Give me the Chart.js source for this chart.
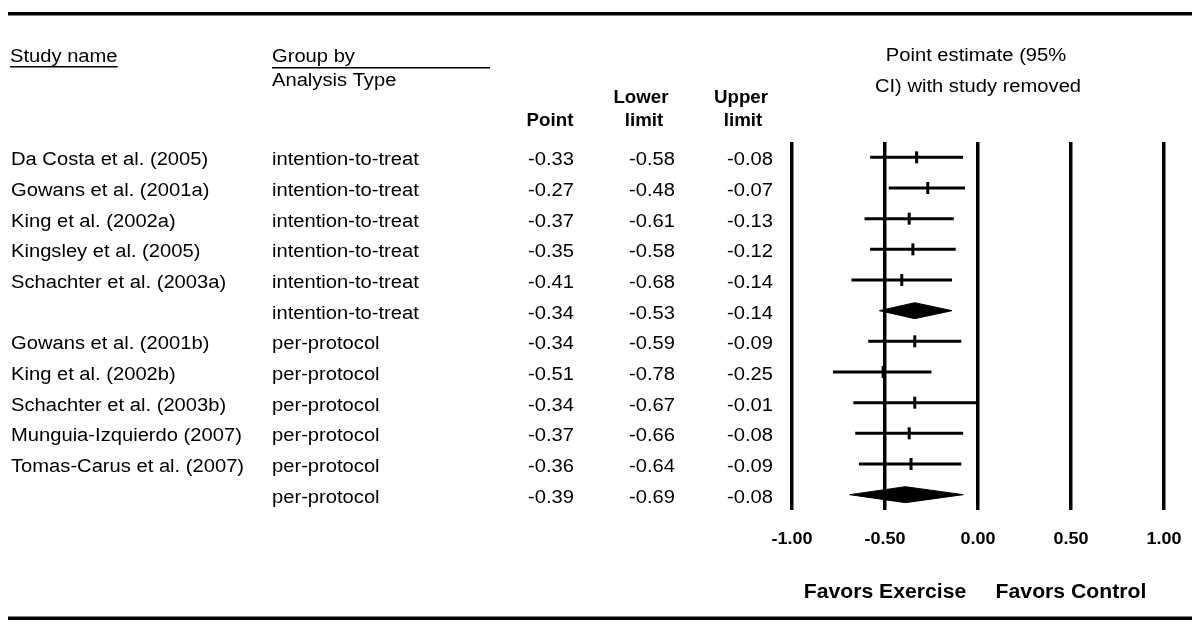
<!DOCTYPE html>
<html>
<head>
<meta charset="utf-8">
<script src="https://cdn.jsdelivr.net/npm/chart.js@4.4.1/dist/chart.umd.min.js"></script>
<style>
  html, body { margin: 0; padding: 0; background: #fff; }
  #wrap { width: 1200px; height: 629px; }
</style>
</head>
<body>
<div id="wrap"><canvas id="forest" width="1200" height="629"></canvas></div>
<script>
const studyNames = [
  "Da Costa et al. (2005)", "Gowans et al. (2001a)", "King et al. (2002a)",
  "Kingsley et al. (2005)", "Schachter et al. (2003a)", "",
  "Gowans et al. (2001b)", "King et al. (2002b)", "Schachter et al. (2003b)",
  "Munguia-Izquierdo (2007)", "Tomas-Carus et al. (2007)", ""
];
const analysisTypes = [
  "intention-to-treat", "intention-to-treat", "intention-to-treat",
  "intention-to-treat", "intention-to-treat", "intention-to-treat",
  "per-protocol", "per-protocol", "per-protocol",
  "per-protocol", "per-protocol", "per-protocol"
];
const points = [-0.33, -0.27, -0.37, -0.35, -0.41, -0.34, -0.34, -0.51, -0.34, -0.37, -0.36, -0.39];
const lowers = [-0.58, -0.48, -0.61, -0.58, -0.68, -0.53, -0.59, -0.78, -0.67, -0.66, -0.64, -0.69];
const uppers = [-0.08, -0.07, -0.13, -0.12, -0.14, -0.14, -0.09, -0.25, -0.01, -0.08, -0.09, -0.08];
const isSummary = [false, false, false, false, false, true, false, false, false, false, false, true];
const xTickLabels = ["-1.00", "-0.50", "0.00", "0.50", "1.00"];

const FONT = '"Liberation Sans", Arial, sans-serif';
const DIAMOND_H = 0.26; // half height in row units

// draw text with a small horizontal stretch (the source image is a bit wide)
function txt(ctx, s, x, y, font, align, sx) {
  ctx.save();
  ctx.font = font;
  const w = ctx.measureText(s).width * sx;
  const x0 = align === "right" ? x - w : align === "center" ? x - w / 2 : x;
  ctx.translate(x0, y);
  ctx.scale(sx, 1);
  ctx.textAlign = "left";
  ctx.textBaseline = "alphabetic";
  ctx.fillStyle = "#000";
  ctx.fillText(s, 0, 0);
  ctx.restore();
  return { x0, w };
}

const datasets = [];
points.forEach((p, i) => {
  if (isSummary[i]) {
    datasets.push({
      type: "line",
      data: [
        { x: lowers[i], y: i }, { x: p, y: i - DIAMOND_H },
        { x: uppers[i], y: i }, { x: p, y: i + DIAMOND_H }, { x: lowers[i], y: i }
      ],
      borderColor: "#000", backgroundColor: "#000", borderWidth: 1,
      pointRadius: 0, fill: "shape", tension: 0, clip: false,
    });
  } else {
    datasets.push({
      type: "line",
      data: [{ x: lowers[i], y: i }, { x: uppers[i], y: i }],
      borderColor: "#000", borderWidth: 3, pointRadius: 0, clip: false,
    });
  }
});
datasets.push({
  type: "scatter",
  data: points.map((p, i) => ({ x: p, y: i })).filter((d, i) => !isSummary[i]),
  pointStyle: "line", rotation: 90, pointRadius: 6,
  borderColor: "#000", borderWidth: 3, clip: false,
});

const textPlugin = {
  id: "forestText",
  afterDraw(chart) {
    const ctx = chart.ctx;
    const xs = chart.scales.x, ys = chart.scales.y;
    const reg = "18px " + FONT, bold = "bold 18px " + FONT;

    // rules
    ctx.save();
    ctx.fillStyle = "#000";
    ctx.fillRect(8, 12, 1184, 3.5);
    ctx.fillRect(8, 616.5, 1184, 3.5);
    ctx.restore();

    // header
    const sn = txt(ctx, "Study name", 10, 62, reg, "left", 1.12);
    txt(ctx, "Group by", 272, 62, reg, "left", 1.12);
    txt(ctx, "Analysis Type", 272, 86, reg, "left", 1.12);
    txt(ctx, "Point", 550, 126, bold, "center", 1.04);
    txt(ctx, "Lower", 641, 103, bold, "center", 1.04);
    txt(ctx, "limit", 644, 126, bold, "center", 1.04);
    txt(ctx, "Upper", 741, 103, bold, "center", 1.04);
    txt(ctx, "limit", 743, 126, bold, "center", 1.04);
    txt(ctx, "Point estimate (95%", 976, 61, reg, "center", 1.12);
    txt(ctx, "CI) with study removed", 978, 92, reg, "center", 1.12);
    ctx.save();
    ctx.fillStyle = "#000";
    ctx.fillRect(sn.x0, 66, sn.w, 1.5);
    ctx.fillRect(272, 67, 218, 1.5);
    ctx.restore();

    // rows
    points.forEach((p, i) => {
      const y = ys.getPixelForValue(i) + 8;
      if (studyNames[i]) txt(ctx, studyNames[i], 11, y, reg, "left", 1.12);
      txt(ctx, analysisTypes[i], 272, y, reg, "left", 1.12);
      txt(ctx, p.toFixed(2), 574, y, reg, "right", 1.12);
      txt(ctx, lowers[i].toFixed(2), 675, y, reg, "right", 1.12);
      txt(ctx, uppers[i].toFixed(2), 773, y, reg, "right", 1.12);
    });

    // x tick labels from the scale
    xs.ticks.forEach((t, k) => {
      txt(ctx, xTickLabels[k], xs.getPixelForValue(t.value), 544, "bold 17px " + FONT, "center", 1.06);
    });
    txt(ctx, "Favors Exercise", xs.getPixelForValue(-0.5), 598, "bold 20px " + FONT, "center", 1.06);
    txt(ctx, "Favors Control", xs.getPixelForValue(0.5), 598, "bold 20px " + FONT, "center", 1.06);
  }
};

new Chart(document.getElementById("forest"), {
  type: "scatter",
  data: { datasets },
  options: {
    responsive: false,
    devicePixelRatio: 1,
    animation: false,
    events: [],
    layout: { padding: { left: 792, right: 36, top: 142, bottom: 119 } },
    plugins: { legend: { display: false }, tooltip: { enabled: false } },
    scales: {
      x: {
        type: "linear", min: -1, max: 1,
        ticks: { display: false, stepSize: 0.5 },
        grid: { color: "#000", lineWidth: 3.5, drawTicks: false },
        border: { display: false },
      },
      y: { type: "linear", min: -0.5, max: 11.5, reverse: true, display: false },
    },
  },
  plugins: [textPlugin],
});
</script>
</body>
</html>
